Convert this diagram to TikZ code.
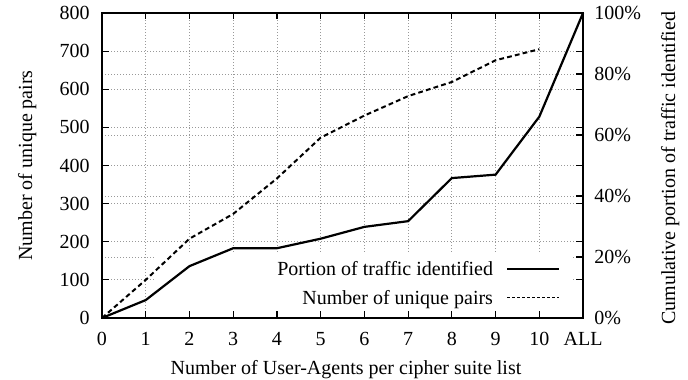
\documentclass[tikz,border=0pt]{standalone}
\usepackage{fontspec}
\setmainfont{Liberation Serif}
\usetikzlibrary{positioning}

\begin{document}
\begin{tikzpicture}[x=21.865pt,y=0.190625pt,
    gridline/.style={black!40,line width=0.4pt,dash pattern=on 0.5pt off 1.0pt},
    tickmark/.style={black,line width=0.6pt},
    frameline/.style={black,line width=1.0pt},
    trafficline/.style={black,line width=1.1pt},
    pairsline/.style={black,line width=1.0pt,dash pattern=on 2.4pt off 1.6pt},
    keydash/.style={black,line width=0.7pt,dash pattern=on 1.5pt off 1.0pt},
    ticklabel/.style={inner sep=0pt},
  ]
  \useasboundingbox (-51pt,-30.5pt) rectangle (293pt,159pt);
  %\draw[red,very thin] (-51pt,-30.5pt) rectangle (293pt,159pt);
  \pgfmathsetmacro\pct{8.0}

  \foreach \x in {1,...,10} {
    \draw[gridline] (\x,0.0) -- (\x,800.0);
  }
  \foreach \y in {100,200,...,700} {
    \draw[gridline] (0.0,\y) -- (11.0,\y);
  }
  \foreach \p in {20,40,60,80} {
    \draw[gridline] (0.0,\p*\pct) -- (11.0,\p*\pct);
  }
  % white patch under the key
  \fill[white] (1.21,0.0) rectangle (10.72,168.0);

  \foreach \y in {0,100,...,800} {
    \draw[tickmark] (0.0,\y) -- ++(3.5pt,0.0);
    \draw[tickmark] (11.0,\y) -- ++(-3.5pt,0.0);
    \node[ticklabel,anchor=east] (ylab\y) at ([xshift=-6pt]0.0,\y) {\y};
  }
  \foreach \p in {0,20,...,100} {
    \draw[tickmark] (11.0,\p*\pct) -- ++(-3.5pt,0.0);
    \node[ticklabel,anchor=west] (yylab\p) at ([xshift=5.5pt]11.0,\p*\pct) {\p\%};
  }
  \foreach \x/\t in {0/0,1/1,2/2,3/3,4/4,5/5,6/6,7/7,8/8,9/9,10/10,11/ALL} {
    \draw[tickmark] (\x,0.0) -- ++(0.0,3.5pt);
    \draw[tickmark] (\x,800.0) -- ++(0.0,-3.0pt);
    \node[ticklabel,anchor=base] (xlab\x) at ([yshift=-13.5pt]\x,0.0) {\t};
  }

  \node[rotate=90,anchor=base] (ytitle) at ([xshift=-35pt]0.0,400.0) {Number of unique pairs};
  \node[rotate=90,anchor=base] (yytitle) at ([xshift=46pt]11.0,393.0) {Cumulative portion of traffic identified};
  \node[anchor=base] (xtitle) at ([yshift=-28pt]5.58,0.0) {Number of User-Agents per cipher suite list};

  \draw[frameline] (0.0,0.0) rectangle (11.0,800.0);

  \draw[trafficline] plot coordinates {(0,0) (1,47) (2,136) (3,183) (4,183) (5,208)
    (6,239) (7,254) (8,367) (9,376) (10,528) (11,800)};
  \draw[pairsline] plot coordinates {(0,0) (1,100) (2,208) (3,273) (4,366) (5,473)
    (6,531) (7,582) (8,619) (9,676) (10,705)};

  \node[ticklabel,anchor=base east] (keytraffic) at (8.95,112.0) {Portion of traffic identified};
  \node[ticklabel,anchor=base east] (keypairs) at (8.95,36.0) {Number of unique pairs};
  \coordinate (keytrafficA) at ([shift={(7pt,3.3pt)}]keytraffic.base east);
  \coordinate (keypairsA) at ([shift={(7pt,3.3pt)}]keypairs.base east);
  \draw[trafficline,line width=1.0pt] (keytrafficA) -- ++(26pt,0.0);
  \draw[keydash] (keypairsA) -- ++(26pt,0.0);
\end{tikzpicture}
\end{document}
